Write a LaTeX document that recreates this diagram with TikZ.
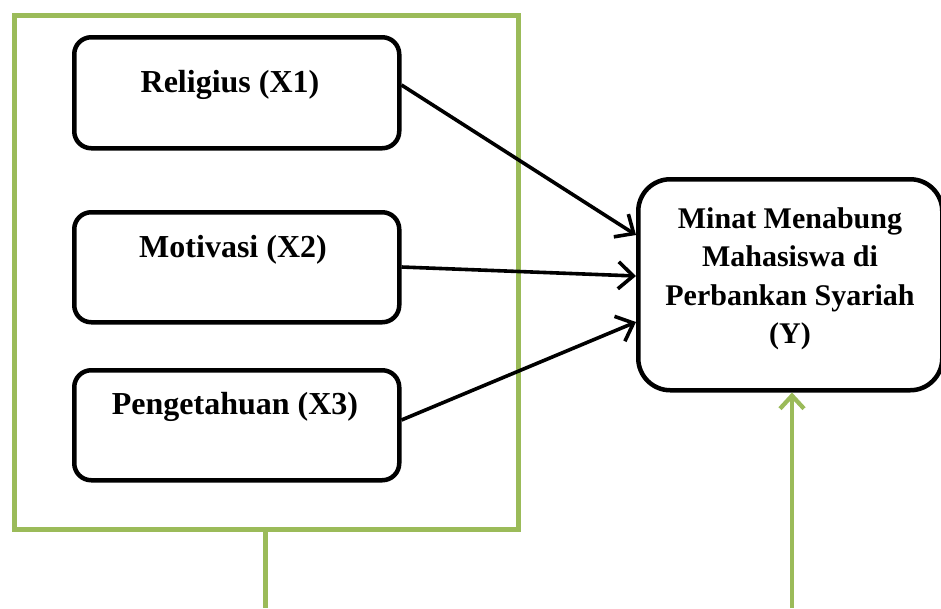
\documentclass[tikz,border=0pt]{standalone}
\usepackage{fontspec}
\setmainfont{Liberation Serif}
\usetikzlibrary{arrows.meta,calc}
\definecolor{olive}{HTML}{9BBB59}
\begin{document}
\begin{tikzpicture}[x=1pt,y=-1pt,
  varbox/.style={draw=black,line width=4.5pt,rounded corners=17pt,fill=white,inner sep=0pt},
  ybox/.style={draw=black,line width=4.5pt,rounded corners=32pt,fill=white,inner sep=0pt},
  lbl/.style={font=\fontsize{32}{38}\selectfont\bfseries,inner sep=0pt,align=center},
  conn/.style={line width=3.6pt,-{Straight Barb[length=15pt,width=27pt,line width=3.6pt]}},
  green/.style={draw=olive,line width=5pt},
  garrow/.style={draw=olive,line width=4.3pt,-{Straight Barb[length=13pt,width=24pt,line width=4.3pt]}}
  ]
\useasboundingbox (0,0) rectangle (941,608);
% green frame
\node[green,minimum width=504pt,minimum height=514pt,inner sep=0pt,anchor=north west] (frame) at (12,13) {};
\coordinate (fbot) at (265,608);
\coordinate (ybot) at (792,608);
% boxes
\node[varbox,minimum width=325pt,minimum height=111pt,anchor=north west] (r) at (72,35) {};
\node[varbox,minimum width=325pt,minimum height=110pt,anchor=north west] (m) at (72,210) {};
\node[varbox,minimum width=325pt,minimum height=110pt,anchor=north west] (p) at (72,368) {};
\node[ybox,minimum width=304pt,minimum height=211pt,anchor=north west] (y) at (636,177) {};
% labels
\node[lbl] (rt) at (230,85) {Religius (X1)};
\node[lbl] (mt) at (233,250) {Motivasi (X2)};
\node[lbl] (pt) at (235,407) {Pengetahuan (X3)};
\node[lbl,font=\fontsize{30}{38.5}\selectfont\bfseries] (yt) at (790,279) {Minat Menabung\\Mahasiswa di\\Perbankan Syariah\\(Y)};
% connectors
\draw[conn] (r.east |- 0,85) -- (y.west |- 0,235);
\draw[conn] (m.east |- 0,267) -- (y.west |- 0,276);
\draw[conn] (p.east |- 0,420) -- (y.west |- 0,322);
% green lines
\draw[green] (frame.south -| fbot) -- (fbot);
\draw[garrow] (ybot) -- (y.south -| ybot);
\end{tikzpicture}
\end{document}
